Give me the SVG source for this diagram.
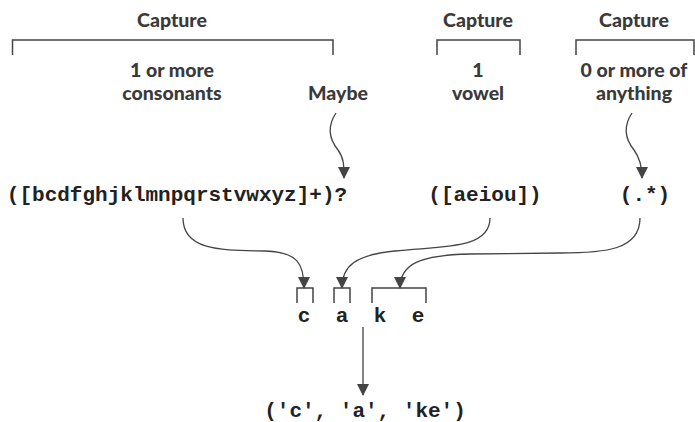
<svg xmlns="http://www.w3.org/2000/svg" width="695" height="422" viewBox="0 0 695 422">
<style>
.lbl{font-family:Lato,"Open Sans","Liberation Sans",sans-serif;font-weight:900;font-size:19.5px;fill:#3a3a3a;text-anchor:middle}
.code{font-family:"Liberation Mono","Courier New",monospace;font-weight:700;font-size:21px;fill:#222;text-anchor:middle}
.br{fill:none;stroke:#444;stroke-width:1.5}
.con{fill:none;stroke:#444;stroke-width:1.3}
</style>
<defs>
<marker id="ah" viewBox="0 0 12 12" refX="11" refY="6" markerWidth="12" markerHeight="12" markerUnits="userSpaceOnUse" orient="auto">
<path d="M0,0 L12,6 L0,12 Z" fill="#444"/>
</marker>
</defs>
<rect width="695" height="422" fill="#fff"/>
<g id="capture1">
<text class="lbl" x="172" y="27">Capture</text>
<path class="br" d="M12.5,55 V40 H333 V55"/>
<text class="lbl" x="172" y="77">1 or more</text>
<text class="lbl" x="172" y="100">consonants</text>
</g>
<g id="maybe">
<text class="lbl" x="338" y="100">Maybe</text>
</g>
<g id="capture2">
<text class="lbl" x="478" y="27">Capture</text>
<path class="br" d="M437,55 V40 H520 V55"/>
<text class="lbl" x="478" y="77">1</text>
<text class="lbl" x="478" y="100">vowel</text>
</g>
<g id="capture3">
<text class="lbl" x="634" y="27">Capture</text>
<path class="br" d="M576,55 V40 H694 V55"/>
<text class="lbl" x="634" y="77">0 or more of</text>
<text class="lbl" x="634" y="100">anything</text>
</g>
<g id="regex1"><text class="code" x="177" y="201">([bcdfghjklmnpqrstvwxyz]+)?</text></g>
<g id="regex2"><text class="code" x="485" y="201">([aeiou])</text></g>
<g id="regex3"><text class="code" x="645" y="201">(.*)</text></g>
<g id="cake">
<path class="br" d="M297,303 V288 H313 V303"/>
<path class="br" d="M334,303 V288 H350 V303"/>
<path class="br" d="M372,303 V288 H426 V303"/>
<text class="code" x="304" y="322">c</text>
<text class="code" x="342" y="322">a</text>
<text class="code" x="380" y="322">k</text>
<text class="code" x="418" y="322">e</text>
</g>
<g id="result"><text class="code" x="365" y="417">('c', 'a', 'ke')</text></g>
<g id="connectors">
<path class="con" marker-end="url(#ah)" d="M336,113 C326,128 330,140 338,150 C344,158 344,166 344,178"/>
<path class="con" marker-end="url(#ah)" d="M632,113 C622,128 626,140 634,150 C640,158 642,166 642,178"/>
<path class="con" marker-end="url(#ah)" d="M183,218 C183,252 225,250 265,251 C298,252 304,264 304,288"/>
<path class="con" marker-end="url(#ah)" d="M490,218 C490,250 440,246 395,251 C355,255 342,266 342,288"/>
<path class="con" marker-end="url(#ah)" d="M640,218 C640,250 605,253 560,253 L470,254 C420,255 400,264 400,288"/>
<path class="con" marker-end="url(#ah)" d="M363,327 V395"/>
</g>
</svg>
